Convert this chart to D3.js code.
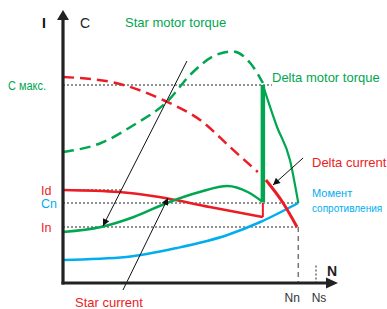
<!DOCTYPE html>
<html>
<head>
<meta charset="utf-8">
<script src="https://cdn.jsdelivr.net/npm/d3@7"></script>
<style>
  body { margin: 0; background: #fff; }
  text { font-family: Arial, "Liberation Sans", sans-serif; }
</style>
</head>
<body>
<script>
// speed in % of Ns, torque / current in arbitrary units
var starTorque = [[0, 20.4], [15, 22.4], [28, 26.4], [41, 32], [54, 36.4], [65, 38.8], [73, 36.4], [79, 32.4]];
var starCurrent = [[0, 37.2], [22, 36.4], [38, 34.4], [58, 30.4], [79, 26.4]];
var deltaTorqueBefore = [[0, 52.4], [15, 56], [28, 63.2], [41, 72.4], [51, 84], [60, 91], [67, 92.6], [74, 88], [79, 80]];
var deltaTorqueAfter = [[79, 79.2], [84.6, 62.4], [89.7, 49.2], [93, 32]];
var deltaCurrentBefore = [[0, 82.4], [20, 80.2], [40, 73], [55, 64.6], [66, 54.4], [77, 44.4]];
var deltaCurrentAfter = [[80.2, 41.2], [87, 32], [92.5, 22.4]];
var loadTorque = [[0, 9.2], [25, 10.4], [45, 14], [65, 19.2], [78, 24.4], [93, 32]];
var switchSpeed = 79;

var yTickLabels = ["С макс.", "Id", "Cn", "In"];
var yTickValues = [79.2, 37.2, 32, 22.4];
var xTickLabels = ["Nn", "Ns"];
var xTickValues = [93, 100];

// pointer arrows [from, to]
var pointers = [
  [[49, 88.8], [15.8, 22.8]],
  [[23.7, -2.8], [41.5, 34]],
  [[94.9, 50], [83, 39.2]]
];

var RED = "#ec1c24", GREEN = "#00a650", BLUE = "#00aeef";

var w = 387, h = 309;
var svg = d3.select("body").append("svg")
  .attr("width", w)
  .attr("height", h);

var x = d3.scaleLinear().domain([0, 100]).range([63, 316]);
var y = d3.scaleLinear().domain([0, 100]).range([283, 33]);

var defs = svg.append("defs");
defs.append("marker")
  .attr("id", "arr")
  .attr("viewBox", "0 0 10 10")
  .attr("refX", 10).attr("refY", 5)
  .attr("markerWidth", 9).attr("markerHeight", 7)
  .attr("markerUnits", "userSpaceOnUse")
  .attr("orient", "auto")
  .append("path").attr("d", "M0,0L10,5L0,10z").attr("fill", "#111");

var line = d3.line()
  .x(function(d) { return x(d[0]); })
  .y(function(d) { return y(d[1]); })
  .curve(d3.curveMonotoneX);

// dotted reference lines
var dotEnd = { "С макс.": 82.6, "Id": 23, "Cn": 93, "In": 93 };
svg.selectAll(".hdot")
  .data(yTickValues)
  .enter()
  .append("line")
  .attr("x1", x(0))
  .attr("x2", function(d, i) { return x(dotEnd[yTickLabels[i]]); })
  .attr("y1", function(d) { return y(d); })
  .attr("y2", function(d) { return y(d); })
  .attr("stroke", "#222")
  .attr("stroke-width", 1)
  .attr("stroke-dasharray", "2,2");

svg.append("line")
  .attr("x1", x(xTickValues[0])).attr("x2", x(xTickValues[0]))
  .attr("y1", y(22.4)).attr("y2", y(0))
  .attr("stroke", "#777").attr("stroke-width", 1.5)
  .attr("stroke-dasharray", "5,4");
svg.append("line")
  .attr("x1", x(xTickValues[1])).attr("x2", x(xTickValues[1]))
  .attr("y1", y(7)).attr("y2", y(0))
  .attr("stroke", "#222").attr("stroke-width", 1)
  .attr("stroke-dasharray", "2,2");

// curves
function curve(data, color, width, dash) {
  svg.append("path")
    .attr("d", line(data))
    .attr("fill", "none")
    .attr("stroke", color)
    .attr("stroke-width", width)
    .attr("stroke-dasharray", dash || null);
}

curve(loadTorque, BLUE, 2.5);
curve(deltaCurrentBefore, RED, 2.5, "11,6");
curve(deltaTorqueBefore, GREEN, 2.5, "11,6");
curve(starCurrent, RED, 2.5);
curve([[switchSpeed, starCurrent[starCurrent.length - 1][1]], [switchSpeed, 32]], RED, 2);
curve(starTorque, GREEN, 2.5);
curve(deltaTorqueAfter, GREEN, 2.2);
curve([[switchSpeed, 79.2], [switchSpeed, 32.4]], GREEN, 4.5);
curve(deltaCurrentAfter, RED, 3);

// pointers
svg.selectAll(".ptr")
  .data(pointers)
  .enter()
  .append("line")
  .attr("x1", function(d) { return x(d[0][0]); })
  .attr("y1", function(d) { return y(d[0][1]); })
  .attr("x2", function(d) { return x(d[1][0]); })
  .attr("y2", function(d) { return y(d[1][1]); })
  .attr("stroke", "#111")
  .attr("stroke-width", 1)
  .attr("marker-end", "url(#arr)");

// axes
svg.append("line")
  .attr("x1", x(0)).attr("x2", x(0))
  .attr("y1", y(0) + 1.5).attr("y2", 18)
  .attr("stroke", "#222").attr("stroke-width", 3.2);
svg.append("path")
  .attr("d", "M" + (x(0) - 6) + ",20L" + x(0) + ",10L" + (x(0) + 6) + ",20z")
  .attr("fill", "#222");
svg.append("line")
  .attr("x1", x(0) - 1.5).attr("x2", 328)
  .attr("y1", y(0)).attr("y2", y(0))
  .attr("stroke", "#222").attr("stroke-width", 3);
svg.append("path")
  .attr("d", "M326," + (y(0) - 5.5) + "L338," + y(0) + "L326," + (y(0) + 5.5) + "z")
  .attr("fill", "#222");

// tick labels
var yLabelColor = { "С макс.": GREEN, "Id": RED, "Cn": BLUE, "In": RED };
svg.selectAll(".ylab")
  .data(yTickLabels)
  .enter()
  .append("text")
  .attr("x", function(d) { return d === "С макс." ? 8 : 41; })
  .attr("y", function(d, i) { return y(yTickValues[i]) + 4.5; })
  .attr("font-size", "12.5px")
  .attr("fill", function(d) { return yLabelColor[d]; })
  .attr("textLength", function(d) { return d === "С макс." ? 38 : null; })
  .attr("lengthAdjust", "spacingAndGlyphs")
  .text(function(d) { return d; });

svg.selectAll(".xlab")
  .data(xTickLabels)
  .enter()
  .append("text")
  .attr("x", function(d, i) { return x(xTickValues[i]) + (i === 0 ? -6 : 3); })
  .attr("y", 302)
  .attr("font-size", "12px")
  .attr("fill", "#333")
  .attr("text-anchor", "middle")
  .text(function(d) { return d; });

// titles
function label(t, px, py, color, size, weight, len) {
  svg.append("text")
    .attr("x", px).attr("y", py)
    .attr("font-size", size)
    .attr("font-weight", weight || "normal")
    .attr("fill", color)
    .attr("textLength", len || null)
    .attr("lengthAdjust", "spacingAndGlyphs")
    .text(t);
}

label("I", 42, 28, "#111", "14px", "bold");
label("C", 80, 28, "#222", "14px");
label("N", 327, 276, "#222", "14px", "bold");
label("Star motor torque", 125, 27, GREEN, "13px");
label("Delta motor torque", 272, 82, GREEN, "13px");
label("Delta current", 312, 167, RED, "13px");
label("Момент", 312, 197, BLUE, "11px");
label("сопротивления", 312, 212, BLUE, "10px");
label("Star current", 75, 307, RED, "13px");
</script>
</body>
</html>
